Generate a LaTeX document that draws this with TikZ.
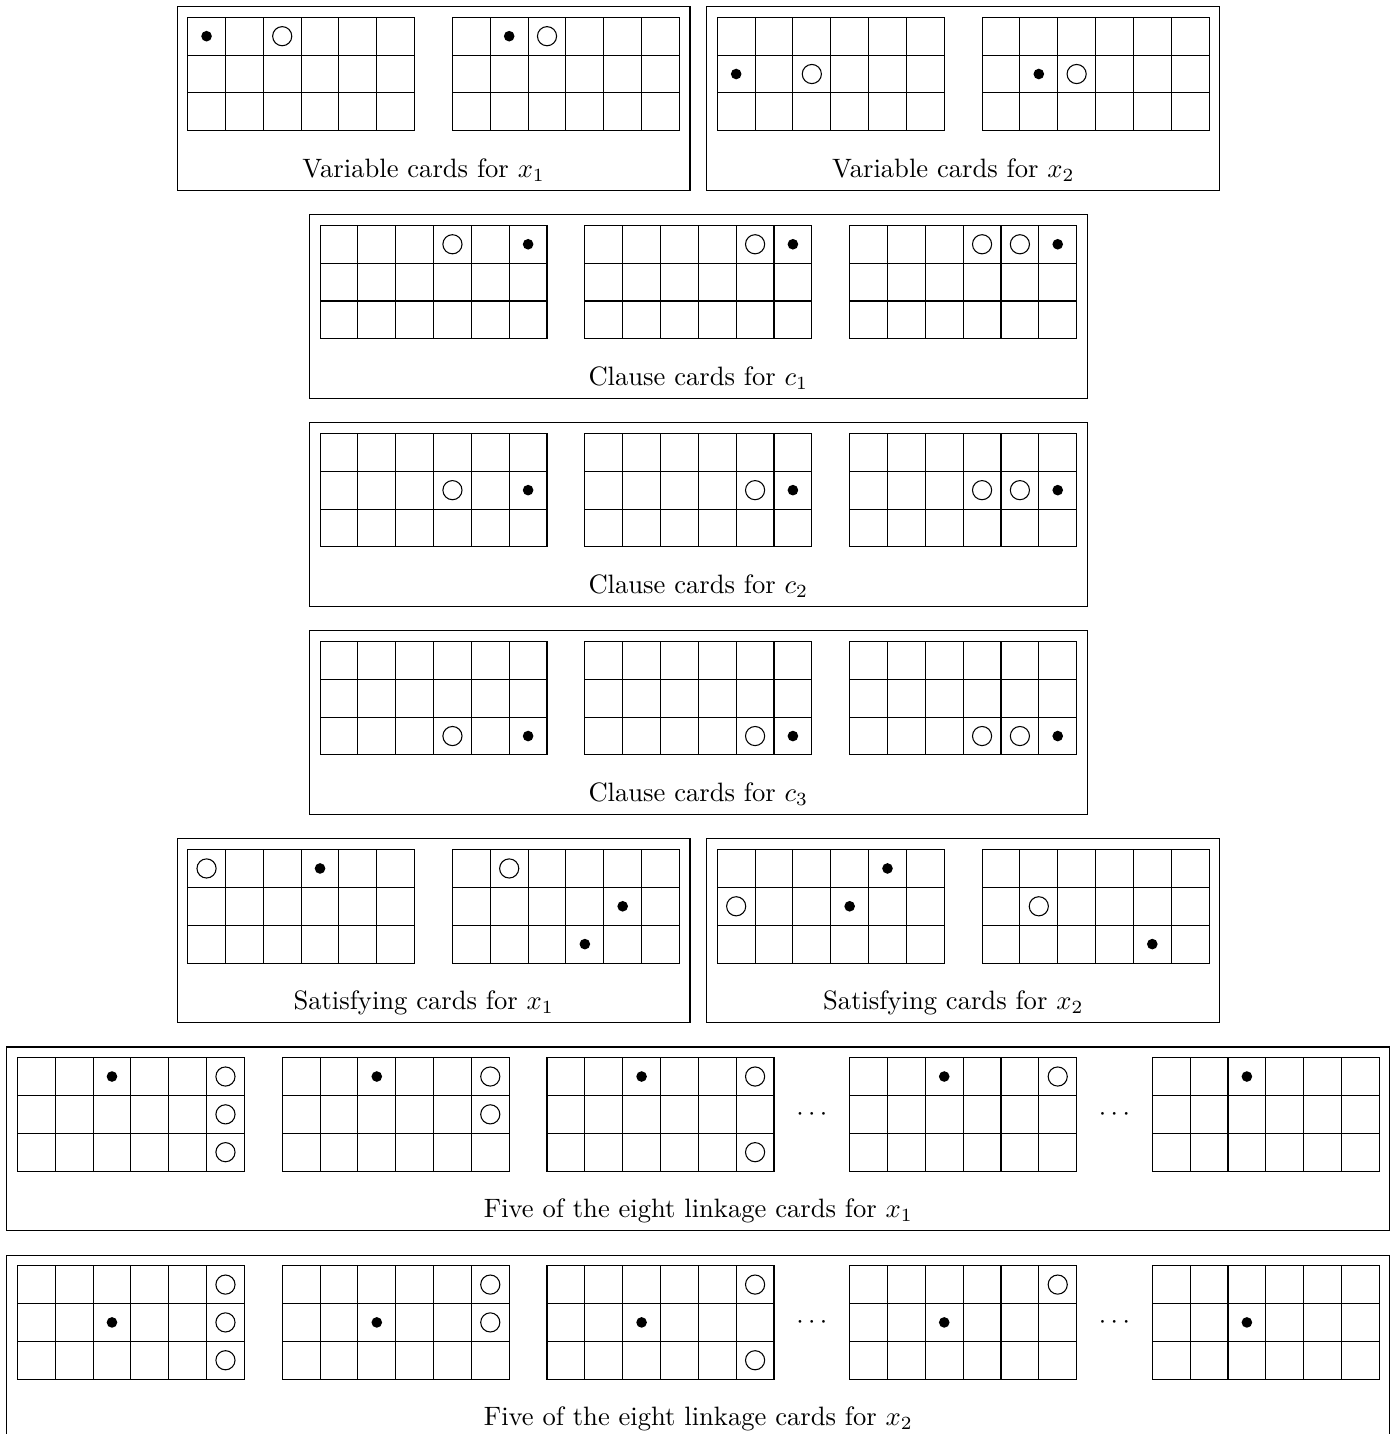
\documentclass[tikz,border=0pt]{standalone}
\begin{document}
\begin{tikzpicture}[x=0.5cm,y=0.5cm,
  cardlabel/.style={anchor=base,inner sep=0pt},
  group/.style={draw,line width=0.4pt},
  card/.pic={
    \draw (0,0) rectangle (6,-3);
    \foreach \i in {1,...,5} \draw (\i,0) -- (\i,-3);
    \foreach \j in {1,2} \draw (0,-\j) -- (6,-\j);
  }]
\newcommand\mdot[2]{\fill (#1+.5,-#2-.5) circle (2pt);}
\newcommand\mring[2]{\draw (#1+.5,-#2-.5) circle (3.6pt);}
\useasboundingbox (-0.46,0.457) rectangle (36.46,-37.45);

% ---------- Row 0: variable cards ----------
\begin{scope}[shift={(4.5,0)}]\pic{card};\mdot{0}{0}\mring{2}{0}\end{scope}
\begin{scope}[shift={(11.5,0)}]\pic{card};\mdot{1}{0}\mring{2}{0}\end{scope}
\begin{scope}[shift={(18.5,0)}]\pic{card};\mdot{0}{1}\mring{2}{1}\end{scope}
\begin{scope}[shift={(25.5,0)}]\pic{card};\mdot{1}{1}\mring{2}{1}\end{scope}
\draw[group] (4.22,0.28) rectangle (17.78,-4.58);
\draw[group] (18.22,0.28) rectangle (31.78,-4.58);
\node[cardlabel] (lv1) at (10.74,-4.23) {Variable cards for $x_1$};
\node[cardlabel] (lv2) at (24.74,-4.23) {Variable cards for $x_2$};

% ---------- Clause cards ----------
\foreach \k/\r in {1/0,2/1,3/2}{
  \begin{scope}[shift={(0,-5.5*\k)}]
    \begin{scope}[shift={(8,0)}]\pic{card};\mring{3}{\r}\mdot{5}{\r}\end{scope}
    \begin{scope}[shift={(15,0)}]\pic{card};\mring{4}{\r}\mdot{5}{\r}\end{scope}
    \begin{scope}[shift={(22,0)}]\pic{card};\mring{3}{\r}\mring{4}{\r}\mdot{5}{\r}\end{scope}
    \draw[group] (7.72,0.28) rectangle (28.28,-4.58);
    \node[cardlabel] (lc\k) at (18,-4.23) {Clause cards for $c_{\k}$};
  \end{scope}
}

% ---------- Satisfying cards ----------
\begin{scope}[shift={(0,-22)}]
  \begin{scope}[shift={(4.5,0)}]\pic{card};\mring{0}{0}\mdot{3}{0}\end{scope}
  \begin{scope}[shift={(11.5,0)}]\pic{card};\mring{1}{0}\mdot{4}{1}\mdot{3}{2}\end{scope}
  \begin{scope}[shift={(18.5,0)}]\pic{card};\mdot{4}{0}\mring{0}{1}\mdot{3}{1}\end{scope}
  \begin{scope}[shift={(25.5,0)}]\pic{card};\mring{1}{1}\mdot{4}{2}\end{scope}
  \draw[group] (4.22,0.28) rectangle (17.78,-4.58);
  \draw[group] (18.22,0.28) rectangle (31.78,-4.58);
  \node[cardlabel] (ls1) at (10.74,-4.23) {Satisfying cards for $x_1$};
  \node[cardlabel] (ls2) at (24.74,-4.23) {Satisfying cards for $x_2$};
\end{scope}

% ---------- Linkage cards ----------
\foreach \k/\r/\v in {5/0/1,6/1/2}{
  \begin{scope}[shift={(0,-5.5*\k)}]
    \begin{scope}[shift={(0,0)}]\pic{card};\mdot{2}{\r}\mring{5}{0}\mring{5}{1}\mring{5}{2}\end{scope}
    \begin{scope}[shift={(7,0)}]\pic{card};\mdot{2}{\r}\mring{5}{0}\mring{5}{1}\end{scope}
    \begin{scope}[shift={(14,0)}]\pic{card};\mdot{2}{\r}\mring{5}{0}\mring{5}{2}\end{scope}
    \node (da\k) at (21,-1.5) {$\cdots$};
    \begin{scope}[shift={(22,0)}]\pic{card};\mdot{2}{\r}\mring{5}{0}\end{scope}
    \node (db\k) at (29,-1.5) {$\cdots$};
    \begin{scope}[shift={(30,0)}]\pic{card};\mdot{2}{\r}\end{scope}
    \draw[group] (-0.28,0.28) rectangle (36.28,-4.58);
    \node[cardlabel] (ll\k) at (18,-4.23) {Five of the eight linkage cards for $x_{\v}$};
  \end{scope}
}
\end{tikzpicture}
\end{document}
